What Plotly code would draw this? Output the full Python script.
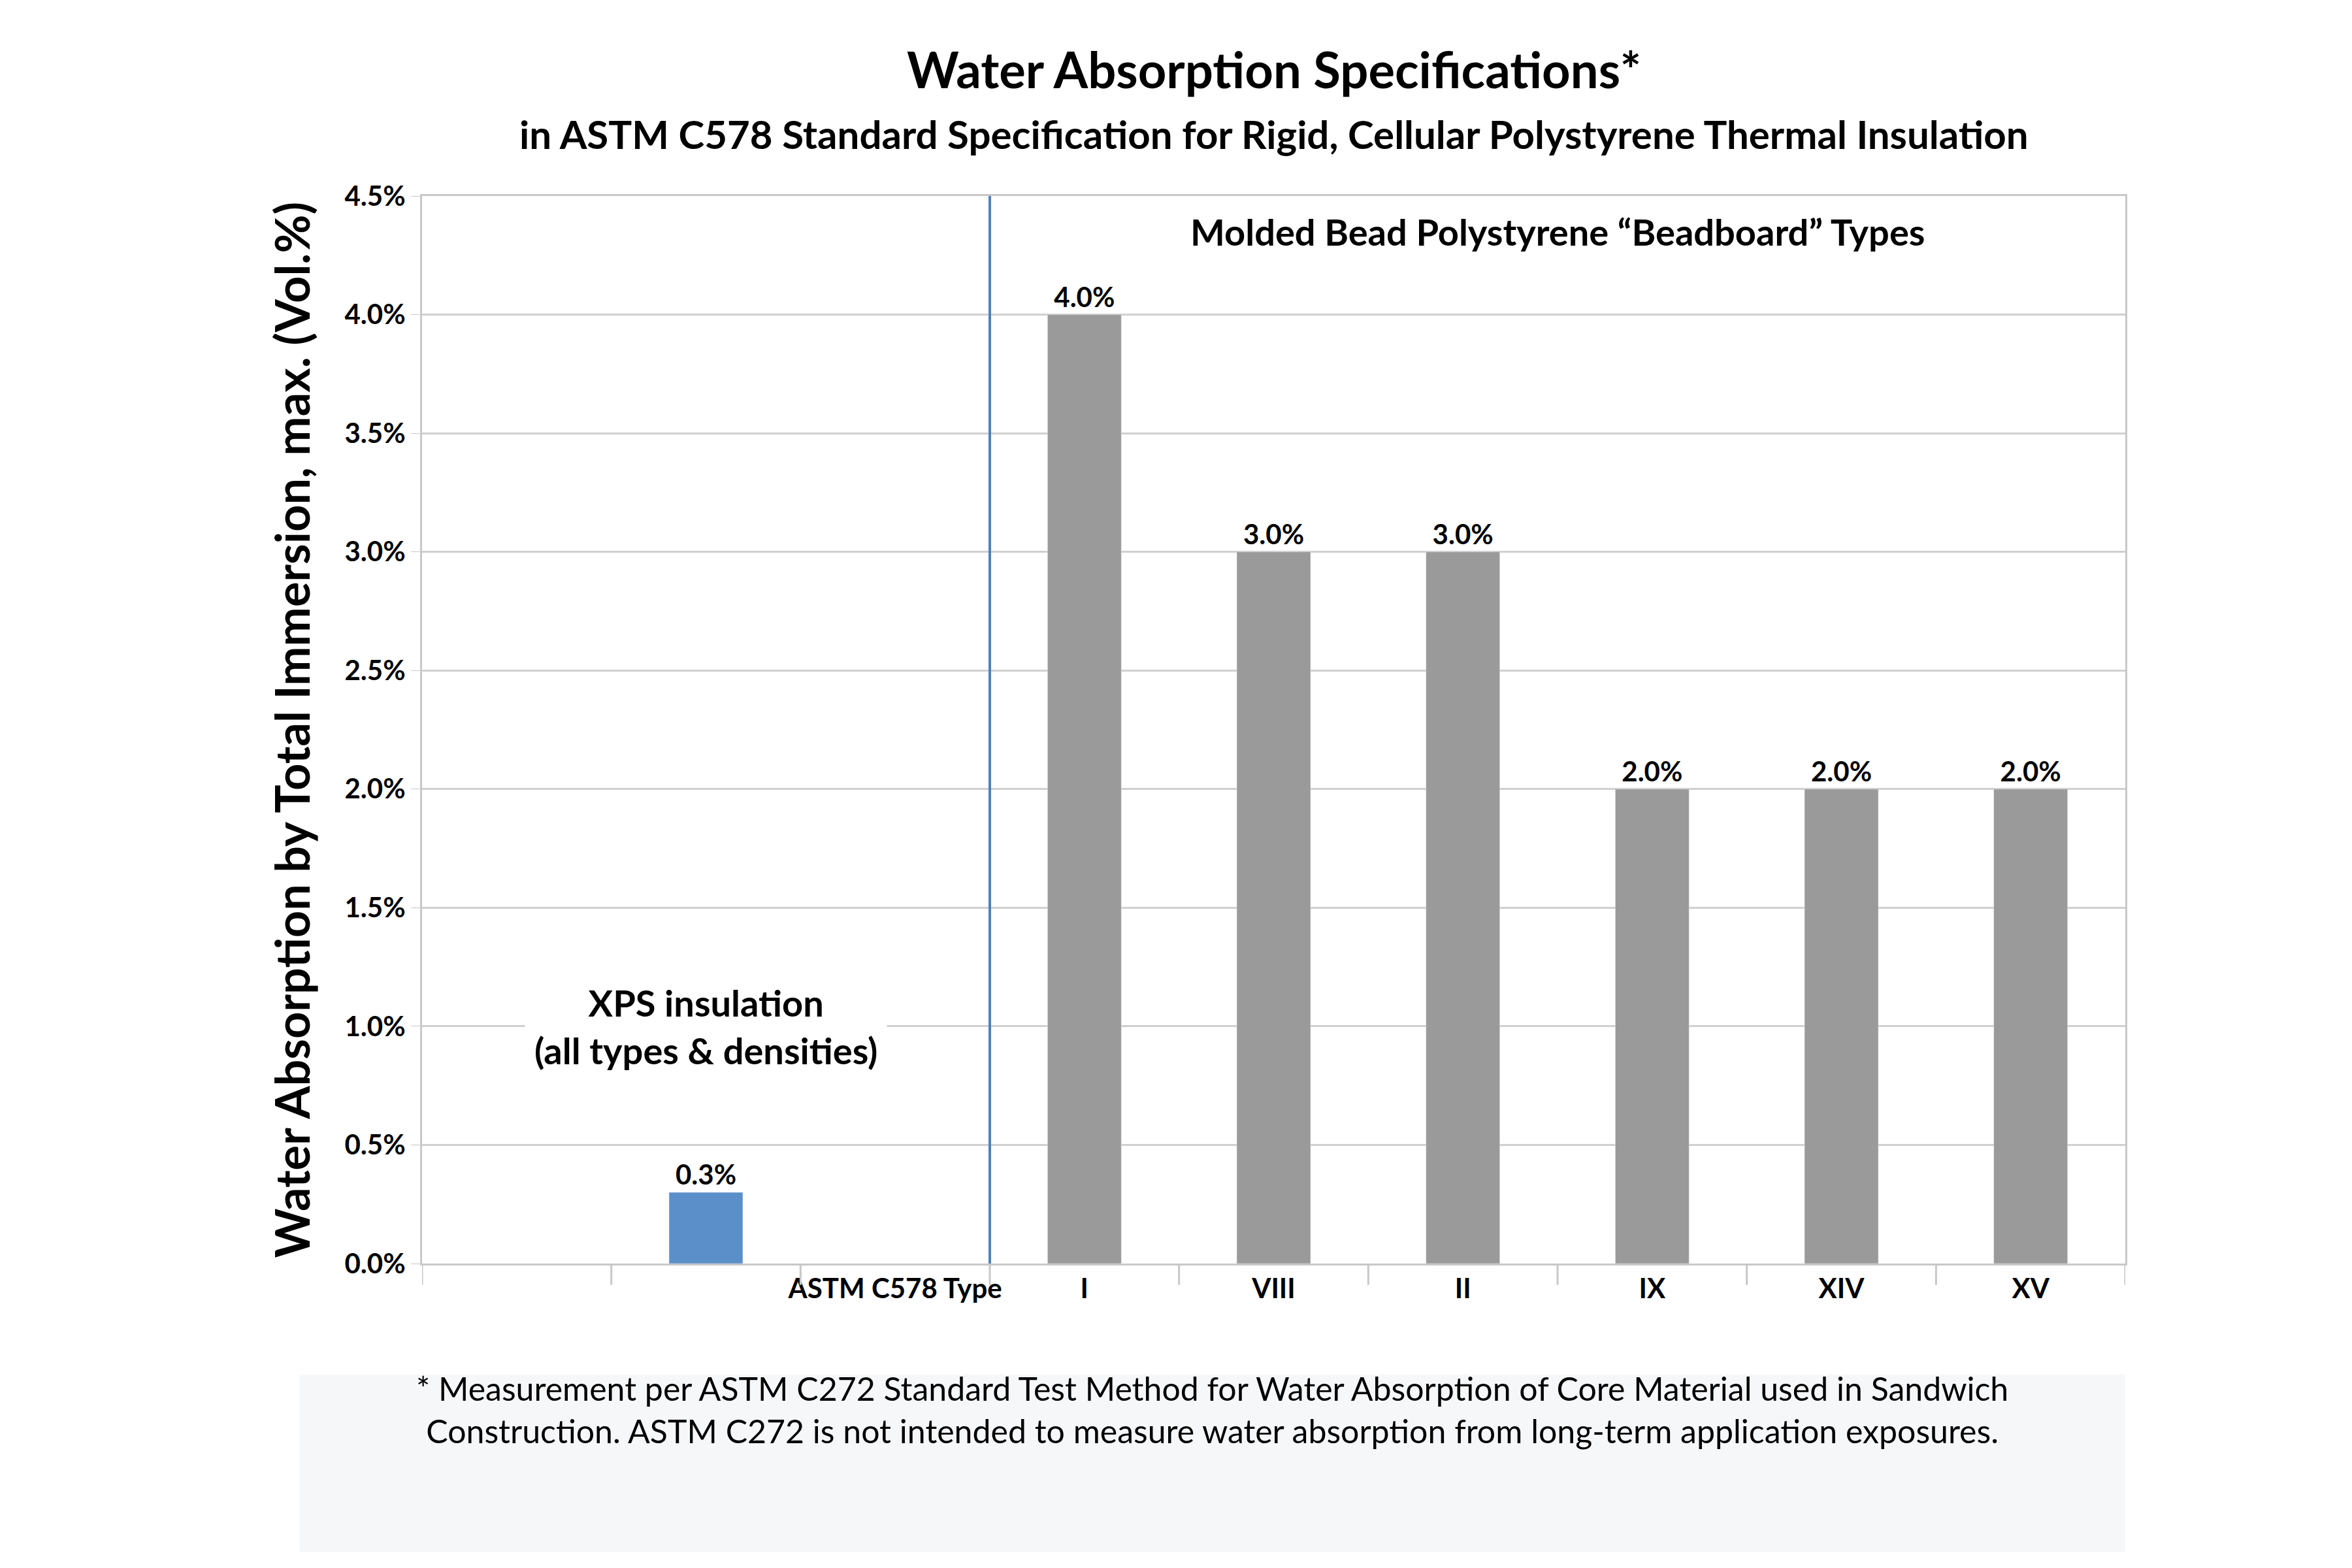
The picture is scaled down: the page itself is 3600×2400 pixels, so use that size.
import plotly.graph_objects as go

positions = [1, 3, 4, 5, 6, 7, 8]
values = [0.3, 4.0, 3.0, 3.0, 2.0, 2.0, 2.0]
colors = ["#5b8fc9"] + ["#9a9a9a"] * 6
tick_pos = [2, 3, 4, 5, 6, 7, 8]
tick_text = ["ASTM C578 Type", "I", "VIII", "II", "IX", "XIV", "XV"]

FONT = "Lato"

fig = go.Figure(go.Bar(
    x=positions, y=values, width=0.39, marker_color=colors,
    text=[f"<b>{v:.1f}%</b>" for v in values], textposition="outside",
    textfont=dict(size=42, color="black", family=FONT), cliponaxis=False,
))

fig.update_layout(
    width=3600, height=2400, plot_bgcolor="white", paper_bgcolor="white",
    margin=dict(l=638, r=355, t=292, b=474),
    font=dict(family=FONT, color="black"),
    showlegend=False,
)
fig.add_annotation(xref="paper", yref="paper", x=0.5, y=1.119, yanchor="middle", showarrow=False,
                   text="<b>Water Absorption Specifications*</b>", font=dict(size=76))
fig.add_annotation(xref="paper", yref="paper", x=0.5, y=1.058, yanchor="middle", showarrow=False,
                   text="<b>in ASTM C578 Standard Specification for Rigid, Cellular Polystyrene Thermal Insulation</b>",
                   font=dict(size=60))

fig.update_xaxes(range=[-0.5, 8.5], tickvals=tick_pos, ticktext=[f"<b>{t}</b>" for t in tick_text],
                 tickfont=dict(size=42), showgrid=False, showline=True, linecolor="#c8c8c8",
                 linewidth=3, zeroline=False, mirror=True, ticks="")
fig.update_yaxes(range=[0, 4.5], dtick=0.5, tickformat=".1f", ticksuffix="%",
                 tickfont=dict(size=42, weight="bold"), gridcolor="#d0d0d0", gridwidth=3,
                 showline=True, linecolor="#c8c8c8", linewidth=3, mirror=True,
                 ticks="outside", ticklen=14, tickcolor="#c8c8c8",
                 title=dict(text="<b>Water Absorption by Total Immersion, max. (Vol.%)</b>",
                            font=dict(size=72), standoff=30))

# category tick marks on x axis
for i in range(10):
    fig.add_shape(type="line", xref="x", yref="paper", x0=i - 0.5, x1=i - 0.5,
                  y0=0, y1=-0.02, line=dict(color="#c8c8c8", width=3))

fig.add_shape(type="line", xref="x", yref="paper", x0=2.5, x1=2.5, y0=0, y1=1,
              line=dict(color="#4f81bd", width=4))

fig.add_annotation(x=1, y=1.0, xref="x", yref="y", text="<b>XPS insulation<br>(all types & densities)</b>",
                   showarrow=False, font=dict(size=56), bgcolor="white", borderpad=14, yanchor="middle")
fig.add_annotation(x=5.5, y=4.35, xref="x", yref="y", text="<b>Molded Bead Polystyrene “Beadboard” Types</b>",
                   showarrow=False, font=dict(size=56), bgcolor="white")

fig.add_shape(type="rect", xref="paper", yref="paper", x0=-0.072, x1=1.0, y0=-0.104, y1=-0.27,
              fillcolor="#f6f7f9", line=dict(width=0), layer="below")
fig.add_annotation(xref="paper", yref="paper", x=0.464, y=-0.176,
                   text="* Measurement per ASTM C272 Standard Test Method for Water Absorption of Core Material used in Sandwich<br>Construction. ASTM C272 is not intended to measure water absorption from long-term application exposures.",
                   showarrow=False, font=dict(size=50), align="center")

fig.write_html("out.html")
